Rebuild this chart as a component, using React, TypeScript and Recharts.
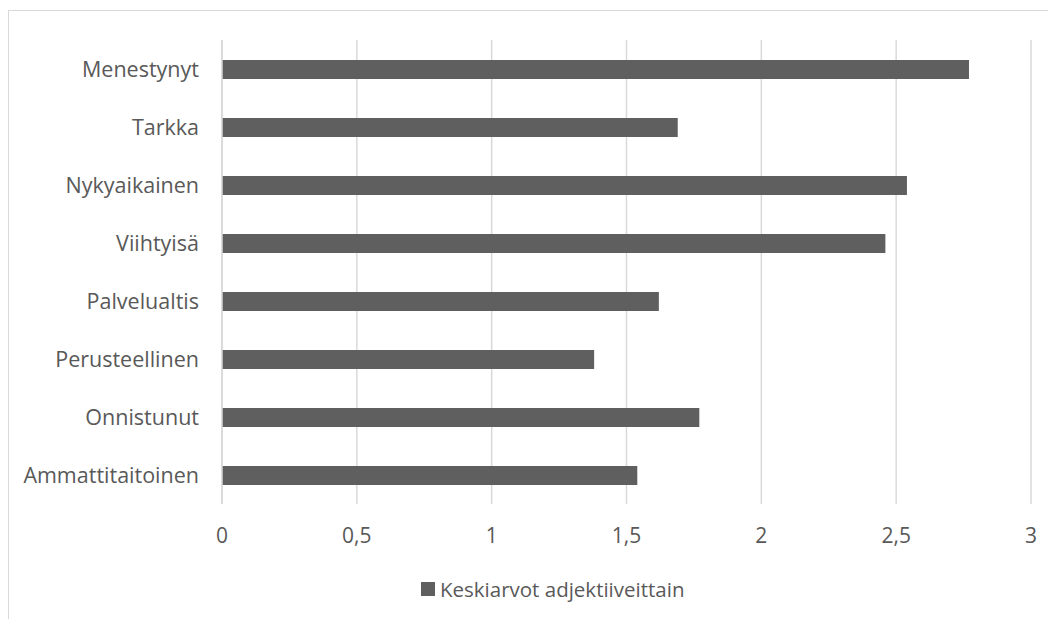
import React from "react";
import {
  BarChart,
  Bar,
  XAxis,
  YAxis,
  CartesianGrid,
  Legend,
} from "recharts";

const categories = [
  "Menestynyt",
  "Tarkka",
  "Nykyaikainen",
  "Viihtyisä",
  "Palvelualtis",
  "Perusteellinen",
  "Onnistunut",
  "Ammattitaitoinen",
];
const averages = [2.77, 1.69, 2.54, 2.46, 1.62, 1.38, 1.77, 1.54];
const xTicks = [0, 0.5, 1, 1.5, 2, 2.5, 3];
const seriesName = "Keskiarvot adjektiiveittain";

const data = categories.map((name, i) => ({ name, value: averages[i] }));

const FONT = "'Open Sans', sans-serif";
const TEXT = "#595959";
const BAR = "#5f5f5f";
const GRID = "#d9d9d9";

function LegendContent({ payload }: { payload?: { value: string; color?: string }[] }) {
  if (!payload?.length) return null;
  return (
    <div
      style={{
        display: "flex",
        alignItems: "center",
        height: 30,
        paddingLeft: 412,
        fontFamily: FONT,
        fontSize: 20.5,
        color: TEXT,
      }}
    >
      {payload.map((p) => (
        <React.Fragment key={p.value}>
          <span
            style={{ display: "inline-block", width: 14, height: 14, background: p.color, marginRight: 5 }}
          />
          <span>{p.value}</span>
        </React.Fragment>
      ))}
    </div>
  );
}

export default function App() {
  return (
    <div
      style={{
        position: "relative",
        top: 2,
        width: 1047,
        height: 610,
        borderLeft: `1px solid ${GRID}`,
        borderTop: `1px solid ${GRID}`,
        background: "#fff",
      }}
    >
      <BarChart
        width={1047}
        height={610}
        data={data}
        layout="vertical"
        margin={{ top: 29, right: 25, bottom: 17, left: 0 }}
      >
        <CartesianGrid horizontal={false} stroke={GRID} strokeWidth={1.5} />
        <XAxis
          type="number"
          domain={[0, 3]}
          ticks={xTicks}
          interval={0}
          axisLine={false}
          tickLine={false}
          tickMargin={18}
          height={70}
          tickFormatter={(v: number) => String(v).replace(".", ",")}
          tick={{ fontSize: 21, fill: TEXT, fontFamily: FONT }}
        />
        <YAxis
          type="category"
          dataKey="name"
          width={213}
          axisLine={{ stroke: GRID, strokeWidth: 1.5 }}
          tickLine={false}
          tickMargin={17}
          interval={0}
          tick={{ fontSize: 21.5, fill: TEXT, fontFamily: FONT }}
        />
        <Legend verticalAlign="bottom" height={30} content={<LegendContent />} />
        <Bar
          dataKey="value"
          name={seriesName}
          fill={BAR}
          barSize={19}
          isAnimationActive={false}
        />
      </BarChart>
    </div>
  );
}
